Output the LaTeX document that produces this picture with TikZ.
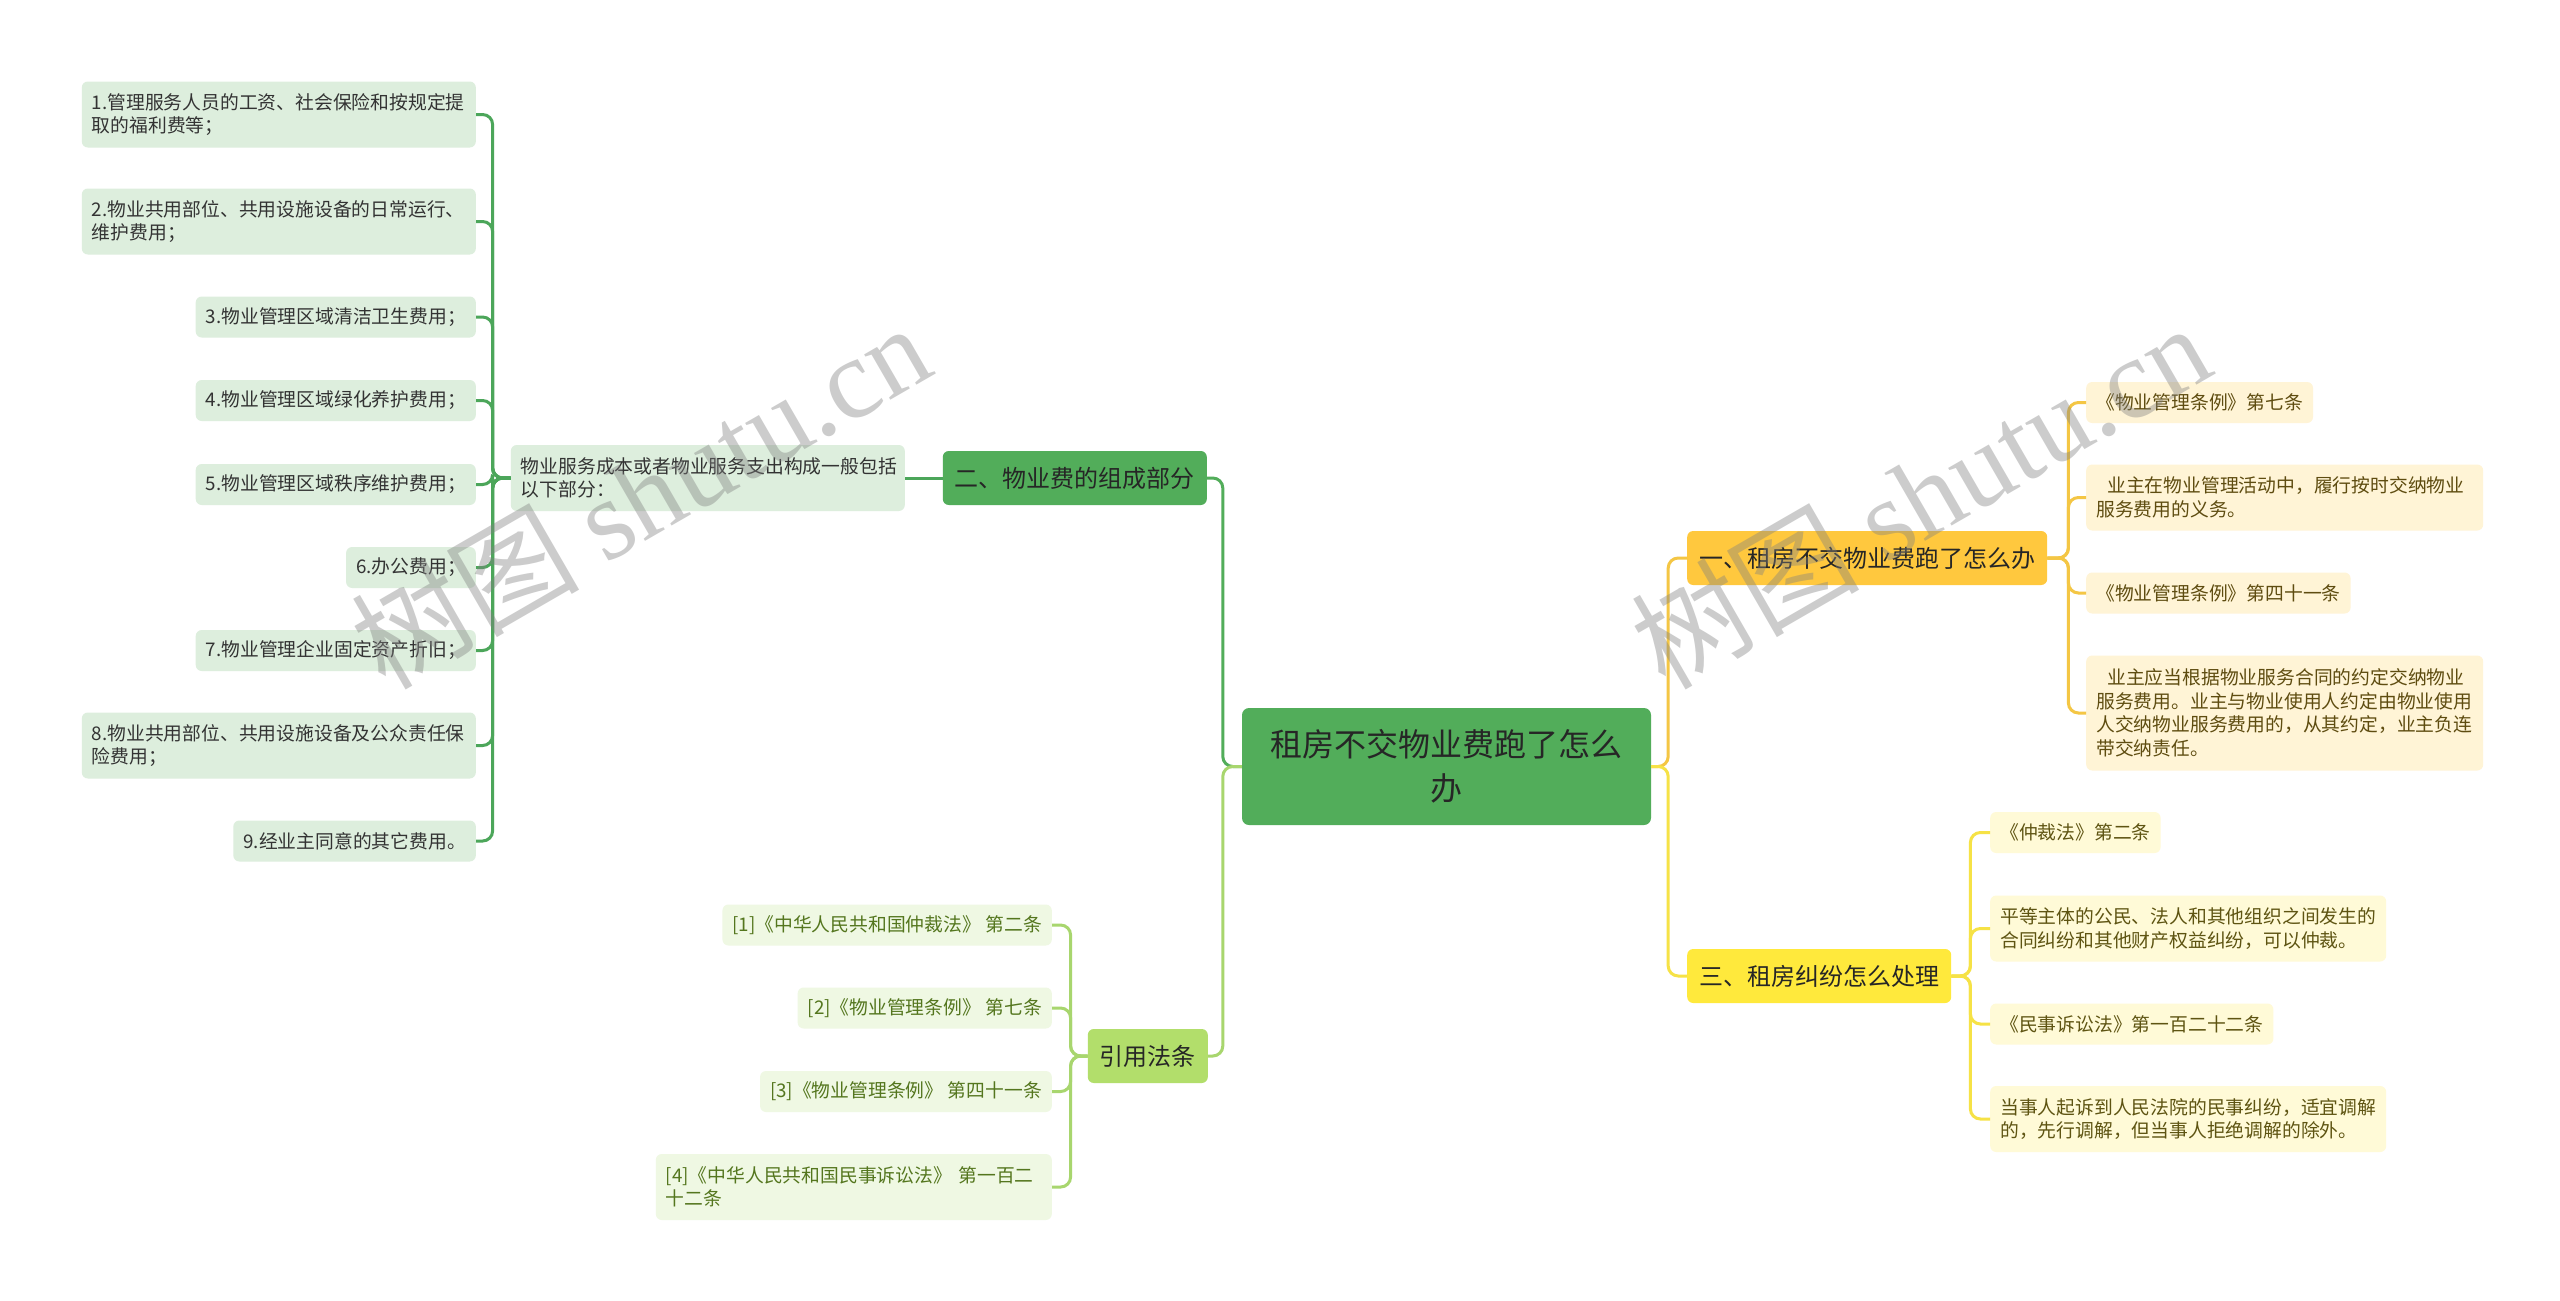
\documentclass[tikz,border=0pt]{standalone}
\usepackage{fontspec}
\setmainfont{Noto Sans CJK SC}
\newfontfamily\wmlatin{Liberation Serif}

\definecolor{rootgreen}{HTML}{52AD5A}
\definecolor{lawgreen}{HTML}{B2DE6B}
\definecolor{runamber}{HTML}{FFC83E}
\definecolor{displemon}{HTML}{FFE93C}
\definecolor{feepale}{HTML}{DDEEDD}
\definecolor{lawpale}{HTML}{EFF8E3}
\definecolor{runpale}{HTML}{FFF4D6}
\definecolor{disppale}{HTML}{FFFAD7}
\definecolor{feeline}{HTML}{4CA65A}
\definecolor{lawline}{HTML}{A8D66E}
\definecolor{runline}{HTML}{F4C644}
\definecolor{displine}{HTML}{F6E246}

\newcommand\rootfont{\fontsize{32}{44}\selectfont}
\newcommand\branchfont{\fontsize{24}{30}\selectfont}
\newcommand\leaffont{\fontsize{18.8}{23.5}\selectfont}
\newcommand\wmfont{\fontsize{114}{114}\selectfont}

\begin{document}
\begin{tikzpicture}[x=1pt,y=-1pt,
  link/.style={line width=3pt,rounded corners=10pt},
  branch/.style={rounded corners=6pt,inner xsep=12pt,inner ysep=0pt,minimum height=54pt,font=\branchfont,text=black!85},
  leaf/.style={rounded corners=6pt,inner xsep=10pt,inner ysep=0pt,minimum height=41pt,align=left,font=\leaffont},
  twolines/.style={minimum height=66pt},
  fourlines/.style={minimum height=115pt},
  feeleaf/.style={leaf,fill=feepale,text=black!80},
  lawleaf/.style={leaf,fill=lawpale,text={rgb,255:red,84;green,118;blue,30}},
  runleaf/.style={leaf,fill=runpale,text={rgb,255:red,94;green,76;blue,16}},
  displeaf/.style={leaf,fill=disppale,text={rgb,255:red,94;green,84;blue,18}}]

  \fill[white] (0,0) rectangle (2560,1301);
  \useasboundingbox (0,0) rectangle (2560,1301);

  % centre and first level
  \node[rounded corners=7pt,fill=rootgreen,minimum width=409pt,minimum height=117pt,
        align=center,font=\rootfont,text=black!85] (root) at (1446.5,766.5) {租房不交物业费跑了怎么\\办};
  \node[branch,fill=rootgreen,anchor=east] (fee) at (1207,478) {二、物业费的组成部分};
  \node[branch,fill=lawgreen,anchor=east] (law) at (1208,1056) {引用法条};
  \node[branch,fill=runamber,anchor=west] (run) at (1687,558) {一、租房不交物业费跑了怎么办};
  \node[branch,fill=displemon,anchor=west] (disp) at (1687,976) {三、租房纠纷怎么处理};

  % left: fee items
  \node[feeleaf,twolines,text width=374pt,anchor=east] (cost) at (905,478) {物业服务成本或者物业服务支出构成一般包括\\以下部分：};
  \node[feeleaf,twolines,text width=374pt,anchor=east] (item1) at (476,114.5) {1.管理服务人员的工资、社会保险和按规定提\\取的福利费等；};
  \node[feeleaf,twolines,text width=374pt,anchor=east] (item2) at (476,221.5) {2.物业共用部位、共用设施设备的日常运行、\\维护费用；};
  \node[feeleaf,anchor=east] (item3) at (476,317) {3.物业管理区域清洁卫生费用；};
  \node[feeleaf,anchor=east] (item4) at (476,400.5) {4.物业管理区域绿化养护费用；};
  \node[feeleaf,anchor=east] (item5) at (476,484.5) {5.物业管理区域秩序维护费用；};
  \node[feeleaf,anchor=east] (item6) at (476,567.5) {6.办公费用；};
  \node[feeleaf,anchor=east] (item7) at (476,650.5) {7.物业管理企业固定资产折旧；};
  \node[feeleaf,twolines,text width=374pt,anchor=east] (item8) at (476,745.5) {8.物业共用部位、共用设施设备及公众责任保\\险费用；};
  \node[feeleaf,anchor=east] (item9) at (476,841) {9.经业主同意的其它费用。};

  % left: cited laws
  \node[lawleaf,anchor=east] (lawa) at (1052,925) {[1]《中华人民共和国仲裁法》 第二条};
  \node[lawleaf,anchor=east] (lawb) at (1052,1008) {[2]《物业管理条例》 第七条};
  \node[lawleaf,anchor=east] (lawc) at (1052,1091.5) {[3]《物业管理条例》 第四十一条};
  \node[lawleaf,twolines,text width=376pt,anchor=east] (lawd) at (1052,1187) {[4]《中华人民共和国民事诉讼法》 第一百二\\十二条};

  % right: run away
  \node[runleaf,anchor=west] (runa) at (2086,402.5) {《物业管理条例》第七条};
  \node[runleaf,twolines,text width=377pt,anchor=west] (runb) at (2086,497.5) {\hspace*{11pt}业主在物业管理活动中，履行按时交纳物业\\服务费用的义务。};
  \node[runleaf,anchor=west] (runc) at (2086,593) {《物业管理条例》第四十一条};
  \node[runleaf,fourlines,text width=377pt,anchor=west] (rund) at (2086,713) {\hspace*{11pt}业主应当根据物业服务合同的约定交纳物业\\服务费用。业主与物业使用人约定由物业使用\\人交纳物业服务费用的，从其约定，业主负连\\带交纳责任。};

  % right: disputes
  \node[displeaf,anchor=west] (dispa) at (1990,832.5) {《仲裁法》第二条};
  \node[displeaf,twolines,text width=376pt,anchor=west] (dispb) at (1990,928.5) {平等主体的公民、法人和其他组织之间发生的\\合同纠纷和其他财产权益纠纷，可以仲裁。};
  \node[displeaf,anchor=west] (dispc) at (1990,1024) {《民事诉讼法》第一百二十二条};
  \node[displeaf,twolines,text width=376pt,anchor=west] (dispd) at (1990,1119) {当事人起诉到人民法院的民事纠纷，适宜调解\\的，先行调解，但当事人拒绝调解的除外。};

  % connectors
  \draw[link,rootgreen] (root.west) -- ++(-19,0) |- (fee.east);
  \draw[link,lawline] (root.west) -- ++(-19,0) |- (law.east);
  \draw[link,runline] (root.east) -- ++(17,0) |- (run.west);
  \draw[link,displine] (root.east) -- ++(17,0) |- (disp.west);
  \draw[link,feeline] (fee.west) -- (cost.east);
  \foreach \n in {1,...,9}
    \draw[link,feeline] (cost.west) -- ++(-18,0) |- (item\n.east);
  \foreach \n in {a,b,c,d} {
    \draw[link,lawline] (law.west) -- ++(-17,0) |- (law\n.east);
    \draw[link,runline] (run.east) -- ++(21,0) |- (run\n.west);
    \draw[link,displine] (disp.east) -- ++(19,0) |- (disp\n.west);
  }

  % watermarks
  \node[rotate=30,text=gray,opacity=0.4,font=\wmfont] (wmleft) at (640,495) {树图 {\wmlatin shutu.cn}};
  \node[rotate=30,text=gray,opacity=0.4,font=\wmfont] (wmright) at (1920,495) {树图 {\wmlatin shutu.cn}};
\end{tikzpicture}
\end{document}
